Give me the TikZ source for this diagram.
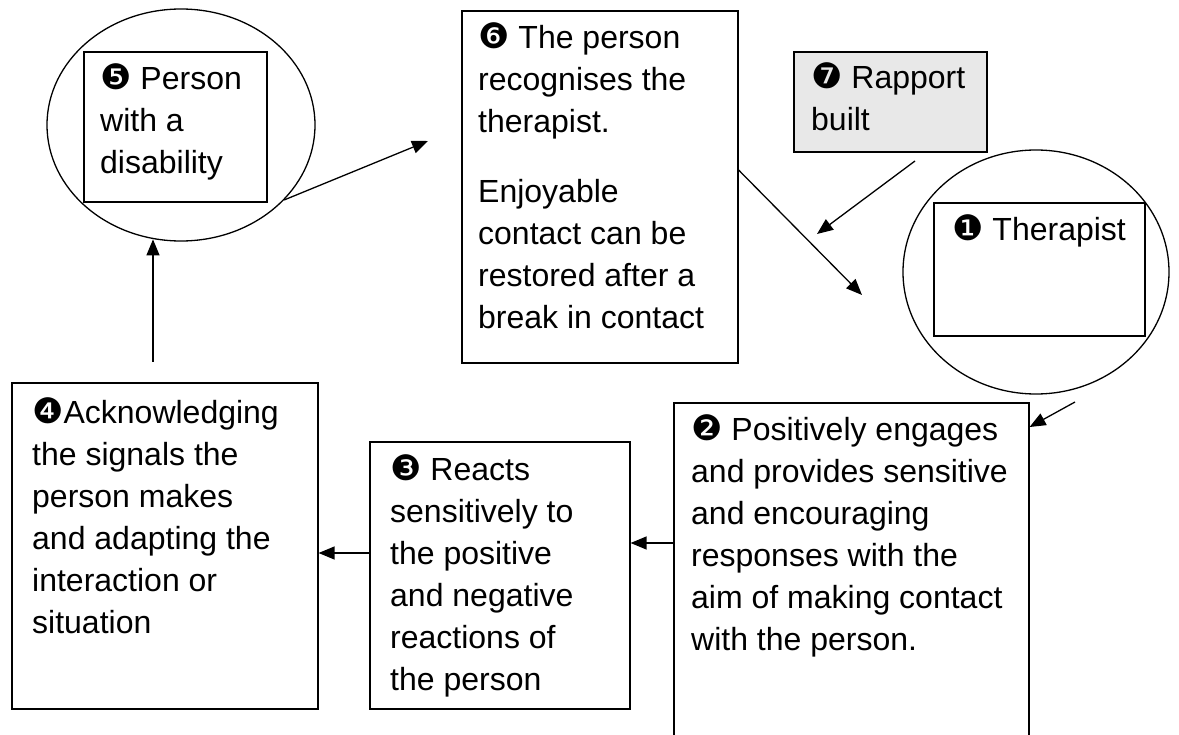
\documentclass[tikz,border=0pt]{standalone}
\usepackage{fontspec}
\setmainfont{Liberation Sans}
\newfontfamily\dingfont{DejaVu Sans}
\usetikzlibrary{arrows.meta,shapes.geometric,calc}
% circled step numbers
\newcommand\cnum[1]{{\dingfont\fontsize{35}{35}\selectfont #1}}
% first-line strut so text blocks start at a known baseline
\newcommand\fl{\rule{0pt}{30pt}}
\definecolor{paleshade}{HTML}{E8E8E8}

\begin{document}
\begin{tikzpicture}[x=1pt,y=-1pt,
  box/.style={draw, line width=1.6pt, rectangle, inner sep=0pt, anchor=north west},
  oval/.style={draw, line width=1.3pt, ellipse, inner sep=0pt},
  txt/.style={anchor=north west, inner sep=0pt, align=left,
              font=\fontsize{32}{42}\selectfont},
  flow/.style={-{Triangle[length=16pt,width=13pt]}, line width=1.3pt},
]
\clip (0,0) rectangle (1179,735);
\fill[white] (0,0) rectangle (1179,735);

% person with a disability
\node[oval, minimum width=268, minimum height=232] (e5) at (181,125) {};
\node[box, minimum width=183, minimum height=150] (b5) at (83,51) {};
\node[txt] (t5) at (100,59) {\fl\cnum{❺} Person\\with a\\disability};

% recognition
\node[box, minimum width=276, minimum height=352] (b6) at (461,10) {};
\node[txt] (t6) at (478,18) {\fl\cnum{❻} The person\\recognises the\\therapist.\\[28pt]Enjoyable\\contact can be\\restored after a\\break in contact};

% rapport
\node[box, fill=paleshade, minimum width=193, minimum height=100] (b7) at (793,51) {};
\node[txt] (t7) at (811,58) {\fl\cnum{❼} Rapport\\built};

% therapist
\node[oval, minimum width=266, minimum height=244] (e1) at (1036,272) {};
\node[box, minimum width=211, minimum height=133] (b1) at (933,202) {};
\node[txt] (t1) at (952,210) {\fl\cnum{❶} Therapist};

% step 2
\node[box, minimum width=355, minimum height=345] (b2) at (673,402) {};
\node[txt] (t2) at (691,410) {\fl\cnum{❷} Positively engages\\and provides sensitive\\and encouraging\\responses with the\\aim of making contact\\with the person.};

% step 3
\node[box, minimum width=260, minimum height=267] (b3) at (369,441) {};
\node[txt] (t3) at (390,450) {\fl\cnum{❸} Reacts\\sensitively to\\the positive\\and negative\\reactions of\\the person};

% step 4
\node[box, minimum width=306, minimum height=326] (b4) at (11,382) {};
\node[txt] (t4) at (32,393) {\fl\cnum{❹}Acknowledging\\the signals the\\person makes\\and adapting the\\interaction or\\situation};

% connectors
\coordinate (a4) at (153,362);
\draw[flow] (a4) -- (a4 |- e5.-103.5);

\coordinate (h6) at (428,141);
\draw[flow] (e5.-36) -- (h6);

\coordinate (h1) at (862,295);
\draw[flow] ($(b6.north east)+(0,160)$) -- (h1);

\coordinate (s7) at (915,161);
\coordinate (h7) at (817,234);
\draw[flow] (s7) -- (h7);

\coordinate (s1) at (1075,402);
\draw[flow] (s1) -- ($(b2.north east)+(0,25)$);

\draw[flow] ($(b2.north west)+(0,141)$) -- ($(b3.north east)+(0,102)$);
\draw[flow] ($(b3.north west)+(0,112)$) -- ($(b4.north east)+(0,171)$);
\end{tikzpicture}
\end{document}
